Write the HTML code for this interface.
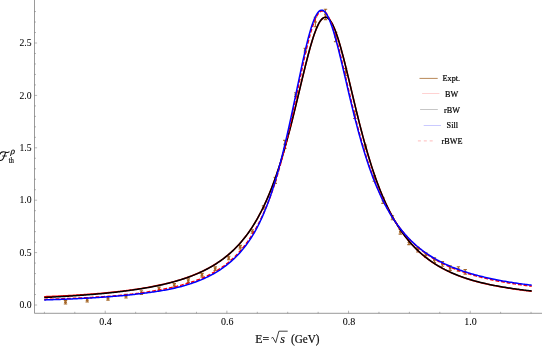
<!DOCTYPE html>
<html><head><meta charset="utf-8"><title>plot</title>
<style>
html,body{margin:0;padding:0;background:#fff;}
body{width:542px;height:347px;overflow:hidden;font-family:"Liberation Serif",serif;}
svg{display:block;will-change:transform;font-family:"Liberation Serif",serif;}
text{font-family:"Liberation Serif",serif;stroke:#000;stroke-width:0.2px;}
text.t{stroke-width:0.06px;}
</style></head><body>
<svg width="542" height="347" viewBox="0 0 542 347">
<rect width="542" height="347" fill="#ffffff"/>
<path d="M34.5 0 V313.3 H542" fill="none" stroke="#6e6e6e" stroke-width="0.7"/>
<path d="M34.5 305.00 h2.6 M34.5 294.52 h1.5 M34.5 284.04 h1.5 M34.5 273.56 h1.5 M34.5 263.08 h1.5 M34.5 252.60 h2.6 M34.5 242.12 h1.5 M34.5 231.64 h1.5 M34.5 221.16 h1.5 M34.5 210.68 h1.5 M34.5 200.20 h2.6 M34.5 189.72 h1.5 M34.5 179.24 h1.5 M34.5 168.76 h1.5 M34.5 158.28 h1.5 M34.5 147.80 h2.6 M34.5 137.32 h1.5 M34.5 126.84 h1.5 M34.5 116.36 h1.5 M34.5 105.88 h1.5 M34.5 95.40 h2.6 M34.5 84.92 h1.5 M34.5 74.44 h1.5 M34.5 63.96 h1.5 M34.5 53.48 h1.5 M34.5 43.00 h2.6 M34.5 32.52 h1.5 M34.5 22.04 h1.5 M34.5 11.56 h1.5 M44.40 313.3 v-1.5 M74.81 313.3 v-1.5 M105.23 313.3 v-2.6 M135.65 313.3 v-1.5 M166.06 313.3 v-1.5 M196.48 313.3 v-1.5 M226.89 313.3 v-2.6 M257.31 313.3 v-1.5 M287.72 313.3 v-1.5 M318.13 313.3 v-1.5 M348.55 313.3 v-2.6 M378.96 313.3 v-1.5 M409.38 313.3 v-1.5 M439.79 313.3 v-1.5 M470.21 313.3 v-2.6 M500.62 313.3 v-1.5 M531.04 313.3 v-1.5 " fill="none" stroke="#6e6e6e" stroke-width="0.5"/>
<text class="t" x="31.5" y="308.25" text-anchor="end" font-size="9.7" fill="#000">0.0</text>
<text class="t" x="31.5" y="255.85" text-anchor="end" font-size="9.7" fill="#000">0.5</text>
<text class="t" x="31.5" y="203.45" text-anchor="end" font-size="9.7" fill="#000">1.0</text>
<text class="t" x="31.5" y="151.05" text-anchor="end" font-size="9.7" fill="#000">1.5</text>
<text class="t" x="31.5" y="98.65" text-anchor="end" font-size="9.7" fill="#000">2.0</text>
<text class="t" x="31.5" y="46.25" text-anchor="end" font-size="9.7" fill="#000">2.5</text>
<text class="t" x="105.6" y="324.55" text-anchor="middle" font-size="10" fill="#000">0.4</text>
<text class="t" x="227.3" y="324.55" text-anchor="middle" font-size="10" fill="#000">0.6</text>
<text class="t" x="348.9" y="324.55" text-anchor="middle" font-size="10" fill="#000">0.8</text>
<text class="t" x="470.6" y="324.55" text-anchor="middle" font-size="10" fill="#000">1.0</text>
<path d="M65.5 300.4 V304.0 M63.8 300.4 h3.4 M63.8 304.0 h3.4 M87.2 298.4 V302.0 M85.5 298.4 h3.4 M85.5 302.0 h3.4 M108.0 296.5 V300.1 M106.3 296.5 h3.4 M106.3 300.1 h3.4 M126.0 294.4 V298.0 M124.3 294.4 h3.4 M124.3 298.0 h3.4 M141.4 290.8 V294.4 M139.7 290.8 h3.4 M139.7 294.4 h3.4 M159.0 287.1 V290.7 M157.3 287.1 h3.4 M157.3 290.7 h3.4 M174.3 283.6 V287.2 M172.6 283.6 h3.4 M172.6 287.2 h3.4 M188.3 278.9 V282.5 M186.6 278.9 h3.4 M186.6 282.5 h3.4 M202.0 273.4 V277.0 M200.3 273.4 h3.4 M200.3 277.0 h3.4 M215.2 266.9 V270.5 M213.5 266.9 h3.4 M213.5 270.5 h3.4 M228.7 256.2 V259.8 M227.0 256.2 h3.4 M227.0 259.8 h3.4 M240.2 245.4 V249.0 M238.5 245.4 h3.4 M238.5 249.0 h3.4 M252.4 229.7 V233.3 M250.7 229.7 h3.4 M250.7 233.3 h3.4 M263.5 205.7 V209.3 M261.8 205.7 h3.4 M261.8 209.3 h3.4 M275.3 177.4 V183.4 M273.6 177.4 h3.4 M273.6 183.4 h3.4 M284.8 140.4 V148.4 M283.1 140.4 h3.4 M283.1 148.4 h3.4 M295.8 92.8 V96.4 M294.1 92.8 h3.4 M294.1 96.4 h3.4 M305.3 48.4 V52.0 M303.6 48.4 h3.4 M303.6 52.0 h3.4 M315.4 17.2 V26.8 M313.7 17.2 h3.4 M313.7 26.8 h3.4 M325.5 9.2 V19.6 M323.8 9.2 h3.4 M323.8 19.6 h3.4 M335.6 32.4 V41.6 M333.9 32.4 h3.4 M333.9 41.6 h3.4 M345.6 68.5 V75.5 M343.9 68.5 h3.4 M343.9 75.5 h3.4 M354.8 111.1 V118.5 M353.1 111.1 h3.4 M353.1 118.5 h3.4 M365.5 145.0 V149.0 M363.8 145.0 h3.4 M363.8 149.0 h3.4 M374.2 175.6 V181.2 M372.5 175.6 h3.4 M372.5 181.2 h3.4 M383.0 197.8 V203.4 M381.3 197.8 h3.4 M381.3 203.4 h3.4 M392.4 215.8 V219.8 M390.7 215.8 h3.4 M390.7 219.8 h3.4 M400.3 229.5 V234.1 M398.6 229.5 h3.4 M398.6 234.1 h3.4 M409.0 240.0 V244.6 M407.3 240.0 h3.4 M407.3 244.6 h3.4 M417.8 247.4 V252.0 M416.1 247.4 h3.4 M416.1 252.0 h3.4 M425.8 252.9 V257.5 M424.1 252.9 h3.4 M424.1 257.5 h3.4 M434.4 257.9 V262.5 M432.7 257.9 h3.4 M432.7 262.5 h3.4 M442.4 261.6 V266.2 M440.7 261.6 h3.4 M440.7 266.2 h3.4 M450.1 265.8 V270.4 M448.4 265.8 h3.4 M448.4 270.4 h3.4 M458.4 266.7 V271.3 M456.7 266.7 h3.4 M456.7 271.3 h3.4 M465.2 269.5 V274.1 M463.5 269.5 h3.4 M463.5 274.1 h3.4 " fill="none" stroke="#a5682a" stroke-width="1.1"/>
<g fill="#a5682a"><circle cx="65.5" cy="302.2" r="1.35"/><circle cx="87.2" cy="300.2" r="1.35"/><circle cx="108.0" cy="298.3" r="1.35"/><circle cx="126.0" cy="296.2" r="1.35"/><circle cx="141.4" cy="292.6" r="1.35"/><circle cx="159.0" cy="288.9" r="1.35"/><circle cx="174.3" cy="285.4" r="1.35"/><circle cx="188.3" cy="280.7" r="1.35"/><circle cx="202.0" cy="275.2" r="1.35"/><circle cx="215.2" cy="268.7" r="1.35"/><circle cx="228.7" cy="258.0" r="1.35"/><circle cx="240.2" cy="247.2" r="1.35"/><circle cx="252.4" cy="231.5" r="1.35"/><circle cx="263.5" cy="207.5" r="1.35"/><circle cx="275.3" cy="180.4" r="1.35"/><circle cx="284.8" cy="144.4" r="1.35"/><circle cx="295.8" cy="94.6" r="1.35"/><circle cx="305.3" cy="50.2" r="1.35"/><circle cx="315.4" cy="22.0" r="1.35"/><circle cx="325.5" cy="14.4" r="1.35"/><circle cx="335.6" cy="37.0" r="1.35"/><circle cx="345.6" cy="72.0" r="1.35"/><circle cx="354.8" cy="114.8" r="1.35"/><circle cx="365.5" cy="147.0" r="1.35"/><circle cx="374.2" cy="178.4" r="1.35"/><circle cx="383.0" cy="200.6" r="1.35"/><circle cx="392.4" cy="217.8" r="1.35"/><circle cx="400.3" cy="231.8" r="1.35"/><circle cx="409.0" cy="242.3" r="1.35"/><circle cx="417.8" cy="249.7" r="1.35"/><circle cx="425.8" cy="255.2" r="1.35"/><circle cx="434.4" cy="260.2" r="1.35"/><circle cx="442.4" cy="263.9" r="1.35"/><circle cx="450.1" cy="268.1" r="1.35"/><circle cx="458.4" cy="269.0" r="1.35"/><circle cx="465.2" cy="271.8" r="1.35"/></g>
<path d="M44.20 296.68 L45.41 296.64 L46.63 296.59 L47.84 296.54 L49.06 296.50 L50.27 296.45 L51.49 296.40 L52.71 296.35 L53.92 296.29 L55.14 296.24 L56.35 296.19 L57.57 296.13 L58.78 296.08 L60.00 296.02 L61.22 295.96 L62.43 295.90 L63.65 295.84 L64.86 295.78 L66.08 295.71 L67.30 295.65 L68.51 295.58 L69.73 295.52 L70.94 295.45 L72.16 295.38 L73.37 295.31 L74.59 295.23 L75.81 295.16 L77.02 295.09 L78.24 295.01 L79.45 294.93 L80.67 294.85 L81.88 294.77 L83.10 294.69 L84.32 294.61 L85.53 294.52 L86.75 294.44 L87.96 294.35 L89.18 294.26 L90.39 294.17 L91.61 294.08 L92.83 293.98 L94.04 293.89 L95.26 293.79 L96.47 293.69 L97.69 293.59 L98.90 293.49 L100.12 293.38 L101.34 293.28 L102.55 293.17 L103.77 293.06 L104.98 292.95 L106.20 292.83 L107.41 292.72 L108.63 292.60 L109.85 292.48 L111.06 292.36 L112.28 292.23 L113.49 292.11 L114.71 291.98 L115.92 291.85 L117.14 291.71 L118.36 291.58 L119.57 291.44 L120.79 291.30 L122.00 291.16 L123.22 291.01 L124.44 290.86 L125.65 290.71 L126.87 290.56 L128.08 290.40 L129.30 290.24 L130.51 290.08 L131.73 289.91 L132.95 289.74 L134.16 289.57 L135.38 289.39 L136.59 289.22 L137.81 289.03 L139.02 288.85 L140.24 288.66 L141.46 288.47 L142.67 288.27 L143.89 288.07 L145.10 287.87 L146.32 287.66 L147.53 287.45 L148.75 287.23 L149.97 287.01 L151.18 286.79 L152.40 286.56 L153.61 286.32 L154.83 286.08 L156.04 285.84 L157.26 285.59 L158.48 285.34 L159.69 285.08 L160.91 284.82 L162.12 284.55 L163.34 284.27 L164.55 283.99 L165.77 283.71 L166.99 283.41 L168.20 283.11 L169.42 282.81 L170.63 282.50 L171.85 282.18 L173.06 281.85 L174.28 281.52 L175.50 281.18 L176.71 280.83 L177.93 280.48 L179.14 280.11 L180.36 279.74 L181.58 279.36 L182.79 278.97 L184.01 278.58 L185.22 278.17 L186.44 277.75 L187.65 277.33 L188.87 276.89 L190.09 276.44 L191.30 275.99 L192.52 275.52 L193.73 275.04 L194.95 274.55 L196.16 274.05 L197.38 273.53 L198.60 273.00 L199.81 272.46 L201.03 271.91 L202.24 271.34 L203.46 270.75 L204.67 270.15 L205.89 269.54 L207.11 268.91 L208.32 268.26 L209.54 267.60 L210.75 266.92 L211.97 266.22 L213.18 265.50 L214.40 264.76 L215.62 264.00 L216.83 263.23 L218.05 262.43 L219.26 261.60 L220.48 260.76 L221.69 259.89 L222.91 259.00 L224.13 258.08 L225.34 257.13 L226.56 256.16 L227.77 255.16 L228.99 254.13 L230.20 253.07 L231.42 251.97 L232.64 250.85 L233.85 249.69 L235.07 248.50 L236.28 247.27 L237.50 246.00 L238.72 244.69 L239.93 243.35 L241.15 241.96 L242.36 240.53 L243.58 239.05 L244.79 237.53 L246.01 235.96 L247.23 234.34 L248.44 232.66 L249.66 230.94 L250.87 229.15 L252.09 227.31 L253.30 225.41 L254.52 223.45 L255.74 221.42 L256.95 219.33 L258.17 217.17 L259.38 214.94 L260.60 212.64 L261.81 210.25 L263.03 207.80 L264.25 205.26 L265.46 202.64 L266.68 199.93 L267.89 197.13 L269.11 194.25 L270.32 191.27 L271.54 188.20 L272.76 185.03 L273.97 181.76 L275.19 178.38 L276.40 174.91 L277.62 171.33 L278.83 167.65 L280.05 163.86 L281.27 159.96 L282.48 155.95 L283.70 151.84 L284.91 147.62 L286.13 143.30 L287.34 138.87 L288.56 134.35 L289.78 129.73 L290.99 125.02 L292.21 120.22 L293.42 115.35 L294.64 110.42 L295.86 105.42 L297.07 100.38 L298.29 95.30 L299.50 90.20 L300.72 85.10 L301.93 80.01 L303.15 74.96 L304.37 69.96 L305.58 65.03 L306.80 60.21 L308.01 55.51 L309.23 50.96 L310.44 46.59 L311.66 42.43 L312.88 38.49 L314.09 34.82 L315.31 31.43 L316.52 28.35 L317.74 25.61 L318.95 23.23 L320.17 21.22 L321.39 19.61 L322.60 18.41 L323.82 17.62 L325.03 17.26 L326.25 17.34 L327.46 17.83 L328.68 18.76 L329.90 20.10 L331.11 21.84 L332.33 23.97 L333.54 26.48 L334.76 29.33 L335.97 32.52 L337.19 36.00 L338.41 39.76 L339.62 43.78 L340.84 48.01 L342.05 52.45 L343.27 57.05 L344.48 61.79 L345.70 66.65 L346.92 71.61 L348.13 76.63 L349.35 81.69 L350.56 86.79 L351.78 91.89 L353.00 96.99 L354.21 102.06 L355.43 107.09 L356.64 112.07 L357.86 116.98 L359.07 121.83 L360.29 126.60 L361.51 131.28 L362.72 135.87 L363.94 140.37 L365.15 144.76 L366.37 149.05 L367.58 153.24 L368.80 157.31 L370.02 161.29 L371.23 165.15 L372.45 168.91 L373.66 172.56 L374.88 176.11 L376.09 179.55 L377.31 182.89 L378.53 186.12 L379.74 189.26 L380.96 192.31 L382.17 195.26 L383.39 198.11 L384.60 200.88 L385.82 203.56 L387.04 206.16 L388.25 208.67 L389.47 211.11 L390.68 213.46 L391.90 215.74 L393.11 217.95 L394.33 220.09 L395.55 222.17 L396.76 224.17 L397.98 226.12 L399.19 228.00 L400.41 229.82 L401.62 231.59 L402.84 233.30 L404.06 234.96 L405.27 236.56 L406.49 238.12 L407.70 239.63 L408.92 241.09 L410.14 242.51 L411.35 243.89 L412.57 245.22 L413.78 246.52 L415.00 247.78 L416.21 249.00 L417.43 250.18 L418.65 251.33 L419.86 252.45 L421.08 253.53 L422.29 254.58 L423.51 255.61 L424.72 256.60 L425.94 257.57 L427.16 258.50 L428.37 259.42 L429.59 260.31 L430.80 261.17 L432.02 262.01 L433.23 262.83 L434.45 263.62 L435.67 264.40 L436.88 265.15 L438.10 265.88 L439.31 266.60 L440.53 267.30 L441.74 267.97 L442.96 268.63 L444.18 269.28 L445.39 269.91 L446.61 270.52 L447.82 271.11 L449.04 271.69 L450.25 272.26 L451.47 272.81 L452.69 273.35 L453.90 273.87 L455.12 274.38 L456.33 274.87 L457.55 275.36 L458.77 275.83 L459.98 276.29 L461.20 276.74 L462.41 277.18 L463.63 277.60 L464.84 278.02 L466.06 278.42 L467.28 278.82 L468.49 279.21 L469.71 279.58 L470.92 279.95 L472.14 280.31 L473.35 280.66 L474.57 281.01 L475.79 281.34 L477.00 281.67 L478.22 281.99 L479.43 282.31 L480.65 282.61 L481.86 282.91 L483.08 283.20 L484.30 283.49 L485.51 283.77 L486.73 284.05 L487.94 284.31 L489.16 284.58 L490.37 284.83 L491.59 285.09 L492.81 285.33 L494.02 285.58 L495.24 285.81 L496.45 286.04 L497.67 286.27 L498.88 286.50 L500.10 286.72 L501.32 286.93 L502.53 287.14 L503.75 287.35 L504.96 287.55 L506.18 287.76 L507.39 287.95 L508.61 288.15 L509.83 288.34 L511.04 288.52 L512.26 288.71 L513.47 288.89 L514.69 289.07 L515.91 289.24 L517.12 289.42 L518.34 289.59 L519.55 289.76 L520.77 289.92 L521.98 290.09 L523.20 290.25 L524.42 290.41 L525.63 290.57 L526.85 290.73 L528.06 290.88 L529.28 291.03 L530.49 291.19 L531.71 291.34" fill="none" stroke="#ff0000" stroke-width="1.5"/>
<path d="M44.20 297.50 L45.41 297.44 L46.63 297.38 L47.84 297.32 L49.06 297.26 L50.27 297.19 L51.49 297.13 L52.71 297.07 L53.92 297.00 L55.14 296.94 L56.35 296.87 L57.57 296.80 L58.78 296.73 L60.00 296.66 L61.22 296.59 L62.43 296.52 L63.65 296.45 L64.86 296.38 L66.08 296.30 L67.30 296.23 L68.51 296.15 L69.73 296.07 L70.94 296.00 L72.16 295.92 L73.37 295.84 L74.59 295.75 L75.81 295.67 L77.02 295.59 L78.24 295.50 L79.45 295.42 L80.67 295.33 L81.88 295.24 L83.10 295.15 L84.32 295.06 L85.53 294.97 L86.75 294.87 L87.96 294.78 L89.18 294.68 L90.39 294.58 L91.61 294.48 L92.83 294.38 L94.04 294.28 L95.26 294.17 L96.47 294.07 L97.69 293.96 L98.90 293.85 L100.12 293.74 L101.34 293.63 L102.55 293.51 L103.77 293.40 L104.98 293.28 L106.20 293.16 L107.41 293.04 L108.63 292.91 L109.85 292.79 L111.06 292.66 L112.28 292.53 L113.49 292.40 L114.71 292.26 L115.92 292.13 L117.14 291.99 L118.36 291.85 L119.57 291.70 L120.79 291.56 L122.00 291.41 L123.22 291.26 L124.44 291.11 L125.65 290.95 L126.87 290.79 L128.08 290.63 L129.30 290.47 L130.51 290.30 L131.73 290.13 L132.95 289.96 L134.16 289.78 L135.38 289.60 L136.59 289.42 L137.81 289.23 L139.02 289.04 L140.24 288.85 L141.46 288.66 L142.67 288.46 L143.89 288.25 L145.10 288.05 L146.32 287.83 L147.53 287.62 L148.75 287.40 L149.97 287.18 L151.18 286.95 L152.40 286.72 L153.61 286.48 L154.83 286.24 L156.04 285.99 L157.26 285.74 L158.48 285.49 L159.69 285.22 L160.91 284.96 L162.12 284.69 L163.34 284.41 L164.55 284.13 L165.77 283.84 L166.99 283.54 L168.20 283.24 L169.42 282.93 L170.63 282.62 L171.85 282.30 L173.06 281.97 L174.28 281.64 L175.50 281.29 L176.71 280.94 L177.93 280.59 L179.14 280.22 L180.36 279.85 L181.58 279.47 L182.79 279.07 L184.01 278.67 L185.22 278.27 L186.44 277.85 L187.65 277.42 L188.87 276.98 L190.09 276.53 L191.30 276.08 L192.52 275.61 L193.73 275.12 L194.95 274.63 L196.16 274.13 L197.38 273.61 L198.60 273.08 L199.81 272.54 L201.03 271.98 L202.24 271.41 L203.46 270.82 L204.67 270.22 L205.89 269.61 L207.11 268.98 L208.32 268.33 L209.54 267.66 L210.75 266.98 L211.97 266.28 L213.18 265.56 L214.40 264.82 L215.62 264.06 L216.83 263.28 L218.05 262.48 L219.26 261.66 L220.48 260.81 L221.69 259.94 L222.91 259.05 L224.13 258.13 L225.34 257.18 L226.56 256.21 L227.77 255.21 L228.99 254.17 L230.20 253.11 L231.42 252.02 L232.64 250.89 L233.85 249.73 L235.07 248.54 L236.28 247.31 L237.50 246.04 L238.72 244.73 L239.93 243.39 L241.15 242.00 L242.36 240.56 L243.58 239.09 L244.79 237.56 L246.01 235.99 L247.23 234.37 L248.44 232.69 L249.66 230.97 L250.87 229.18 L252.09 227.34 L253.30 225.44 L254.52 223.48 L255.74 221.45 L256.95 219.36 L258.17 217.20 L259.38 214.97 L260.60 212.66 L261.81 210.28 L263.03 207.82 L264.25 205.28 L265.46 202.66 L266.68 199.95 L267.89 197.15 L269.11 194.27 L270.32 191.29 L271.54 188.21 L272.76 185.04 L273.97 181.77 L275.19 178.40 L276.40 174.93 L277.62 171.35 L278.83 167.66 L280.05 163.87 L281.27 159.97 L282.48 155.97 L283.70 151.85 L284.91 147.63 L286.13 143.31 L287.34 138.88 L288.56 134.36 L289.78 129.74 L290.99 125.03 L292.21 120.23 L293.42 115.36 L294.64 110.42 L295.86 105.43 L297.07 100.38 L298.29 95.30 L299.50 90.21 L300.72 85.10 L301.93 80.02 L303.15 74.96 L304.37 69.96 L305.58 65.04 L306.80 60.21 L308.01 55.51 L309.23 50.96 L310.44 46.59 L311.66 42.43 L312.88 38.49 L314.09 34.82 L315.31 31.43 L316.52 28.35 L317.74 25.61 L318.95 23.23 L320.17 21.22 L321.39 19.61 L322.60 18.40 L323.82 17.62 L325.03 17.26 L326.25 17.33 L327.46 17.83 L328.68 18.75 L329.90 20.09 L331.11 21.83 L332.33 23.96 L333.54 26.47 L334.76 29.32 L335.97 32.50 L337.19 35.99 L338.41 39.75 L339.62 43.76 L340.84 48.00 L342.05 52.43 L343.27 57.03 L344.48 61.78 L345.70 66.64 L346.92 71.59 L348.13 76.61 L349.35 81.68 L350.56 86.77 L351.78 91.87 L353.00 96.97 L354.21 102.04 L355.43 107.07 L356.64 112.04 L357.86 116.96 L359.07 121.81 L360.29 126.58 L361.51 131.26 L362.72 135.85 L363.94 140.34 L365.15 144.73 L366.37 149.02 L367.58 153.21 L368.80 157.29 L370.02 161.26 L371.23 165.12 L372.45 168.88 L373.66 172.53 L374.88 176.07 L376.09 179.52 L377.31 182.85 L378.53 186.09 L379.74 189.23 L380.96 192.27 L382.17 195.22 L383.39 198.08 L384.60 200.84 L385.82 203.52 L387.04 206.12 L388.25 208.63 L389.47 211.07 L390.68 213.42 L391.90 215.70 L393.11 217.91 L394.33 220.05 L395.55 222.12 L396.76 224.13 L397.98 226.07 L399.19 227.95 L400.41 229.77 L401.62 231.54 L402.84 233.25 L404.06 234.90 L405.27 236.51 L406.49 238.07 L407.70 239.58 L408.92 241.04 L410.14 242.46 L411.35 243.83 L412.57 245.17 L413.78 246.46 L415.00 247.72 L416.21 248.93 L417.43 250.12 L418.65 251.27 L419.86 252.38 L421.08 253.46 L422.29 254.51 L423.51 255.54 L424.72 256.53 L425.94 257.49 L427.16 258.43 L428.37 259.34 L429.59 260.23 L430.80 261.09 L432.02 261.93 L433.23 262.75 L434.45 263.54 L435.67 264.31 L436.88 265.07 L438.10 265.80 L439.31 266.51 L440.53 267.21 L441.74 267.88 L442.96 268.54 L444.18 269.19 L445.39 269.81 L446.61 270.42 L447.82 271.02 L449.04 271.59 L450.25 272.16 L451.47 272.71 L452.69 273.24 L453.90 273.76 L455.12 274.27 L456.33 274.76 L457.55 275.25 L458.77 275.71 L459.98 276.17 L461.20 276.62 L462.41 277.05 L463.63 277.48 L464.84 277.89 L466.06 278.30 L467.28 278.69 L468.49 279.08 L469.71 279.45 L470.92 279.82 L472.14 280.17 L473.35 280.52 L474.57 280.86 L475.79 281.20 L477.00 281.52 L478.22 281.84 L479.43 282.15 L480.65 282.46 L481.86 282.75 L483.08 283.04 L484.30 283.33 L485.51 283.60 L486.73 283.88 L487.94 284.14 L489.16 284.40 L490.37 284.66 L491.59 284.90 L492.81 285.15 L494.02 285.39 L495.24 285.62 L496.45 285.85 L497.67 286.08 L498.88 286.30 L500.10 286.51 L501.32 286.72 L502.53 286.93 L503.75 287.14 L504.96 287.34 L506.18 287.53 L507.39 287.73 L508.61 287.92 L509.83 288.10 L511.04 288.29 L512.26 288.47 L513.47 288.64 L514.69 288.82 L515.91 288.99 L517.12 289.16 L518.34 289.33 L519.55 289.49 L520.77 289.65 L521.98 289.81 L523.20 289.97 L524.42 290.12 L525.63 290.28 L526.85 290.43 L528.06 290.58 L529.28 290.73 L530.49 290.87 L531.71 291.02" fill="none" stroke="#000000" stroke-width="1.5"/>
<path d="M44.20 299.45 L45.41 299.41 L46.63 299.37 L47.84 299.33 L49.06 299.29 L50.27 299.25 L51.49 299.21 L52.71 299.17 L53.92 299.12 L55.14 299.08 L56.35 299.04 L57.57 298.99 L58.78 298.95 L60.00 298.90 L61.22 298.85 L62.43 298.81 L63.65 298.76 L64.86 298.71 L66.08 298.66 L67.30 298.61 L68.51 298.56 L69.73 298.51 L70.94 298.46 L72.16 298.40 L73.37 298.35 L74.59 298.29 L75.81 298.24 L77.02 298.18 L78.24 298.12 L79.45 298.06 L80.67 298.00 L81.88 297.94 L83.10 297.88 L84.32 297.82 L85.53 297.75 L86.75 297.69 L87.96 297.62 L89.18 297.55 L90.39 297.48 L91.61 297.41 L92.83 297.34 L94.04 297.27 L95.26 297.20 L96.47 297.12 L97.69 297.04 L98.90 296.97 L100.12 296.89 L101.34 296.81 L102.55 296.73 L103.77 296.64 L104.98 296.56 L106.20 296.47 L107.41 296.38 L108.63 296.29 L109.85 296.20 L111.06 296.11 L112.28 296.01 L113.49 295.92 L114.71 295.82 L115.92 295.72 L117.14 295.62 L118.36 295.51 L119.57 295.40 L120.79 295.29 L122.00 295.18 L123.22 295.06 L124.44 294.94 L125.65 294.81 L126.87 294.68 L128.08 294.55 L129.30 294.41 L130.51 294.27 L131.73 294.13 L132.95 293.98 L134.16 293.83 L135.38 293.68 L136.59 293.52 L137.81 293.37 L139.02 293.20 L140.24 293.04 L141.46 292.87 L142.67 292.70 L143.89 292.52 L145.10 292.34 L146.32 292.16 L147.53 291.97 L148.75 291.79 L149.97 291.59 L151.18 291.40 L152.40 291.20 L153.61 291.00 L154.83 290.79 L156.04 290.58 L157.26 290.37 L158.48 290.15 L159.69 289.94 L160.91 289.71 L162.12 289.49 L163.34 289.26 L164.55 289.02 L165.77 288.78 L166.99 288.54 L168.20 288.29 L169.42 288.04 L170.63 287.78 L171.85 287.51 L173.06 287.24 L174.28 286.96 L175.50 286.67 L176.71 286.38 L177.93 286.08 L179.14 285.77 L180.36 285.46 L181.58 285.13 L182.79 284.80 L184.01 284.46 L185.22 284.11 L186.44 283.75 L187.65 283.38 L188.87 283.00 L190.09 282.61 L191.30 282.21 L192.52 281.80 L193.73 281.38 L194.95 280.95 L196.16 280.50 L197.38 280.05 L198.60 279.58 L199.81 279.09 L201.03 278.60 L202.24 278.09 L203.46 277.56 L204.67 277.02 L205.89 276.47 L207.11 275.89 L208.32 275.30 L209.54 274.70 L210.75 274.07 L211.97 273.43 L213.18 272.76 L214.40 272.08 L215.62 271.37 L216.83 270.65 L218.05 269.90 L219.26 269.12 L220.48 268.33 L221.69 267.50 L222.91 266.65 L224.13 265.78 L225.34 264.87 L226.56 263.93 L227.77 262.97 L228.99 261.97 L230.20 260.94 L231.42 259.87 L232.64 258.77 L233.85 257.63 L235.07 256.45 L236.28 255.23 L237.50 253.96 L238.72 252.66 L239.93 251.30 L241.15 249.91 L242.36 248.46 L243.58 246.97 L244.79 245.42 L246.01 243.82 L247.23 242.17 L248.44 240.45 L249.66 238.68 L250.87 236.84 L252.09 234.94 L253.30 232.97 L254.52 230.93 L255.74 228.81 L256.95 226.62 L258.17 224.34 L259.38 221.99 L260.60 219.54 L261.81 217.01 L263.03 214.38 L264.25 211.66 L265.46 208.83 L266.68 205.91 L267.89 202.87 L269.11 199.72 L270.32 196.46 L271.54 193.08 L272.76 189.58 L273.97 185.95 L275.19 182.20 L276.40 178.31 L277.62 174.29 L278.83 170.14 L280.05 165.84 L281.27 161.41 L282.48 156.84 L283.70 152.13 L284.91 147.28 L286.13 142.29 L287.34 137.17 L288.56 131.92 L289.78 126.56 L290.99 121.09 L292.21 115.52 L293.42 109.86 L294.64 104.14 L295.86 98.36 L297.07 92.54 L298.29 86.70 L299.50 80.87 L300.72 75.07 L301.93 69.32 L303.15 63.67 L304.37 58.12 L305.58 52.73 L306.80 47.52 L308.01 42.53 L309.23 37.78 L310.44 33.33 L311.66 29.19 L312.88 25.41 L314.09 22.01 L315.31 19.03 L316.52 16.47 L317.74 14.38 L318.95 12.76 L320.17 11.63 L321.39 10.99 L322.60 10.84 L323.82 11.19 L325.03 12.02 L326.25 13.33 L327.46 15.10 L328.68 17.29 L329.90 19.91 L331.11 22.90 L332.33 26.25 L333.54 29.92 L334.76 33.89 L335.97 38.12 L337.19 42.57 L338.41 47.22 L339.62 52.03 L340.84 56.97 L342.05 62.02 L343.27 67.15 L344.48 72.33 L345.70 77.54 L346.92 82.76 L348.13 87.97 L349.35 93.15 L350.56 98.29 L351.78 103.37 L353.00 108.39 L354.21 113.33 L355.43 118.18 L356.64 122.94 L357.86 127.60 L359.07 132.16 L360.29 136.61 L361.51 140.95 L362.72 145.18 L363.94 149.30 L365.15 153.31 L366.37 157.20 L367.58 160.99 L368.80 164.66 L370.02 168.22 L371.23 171.68 L372.45 175.03 L373.66 178.28 L374.88 181.43 L376.09 184.48 L377.31 187.43 L378.53 190.29 L379.74 193.06 L380.96 195.74 L382.17 198.34 L383.39 200.85 L384.60 203.29 L385.82 205.64 L387.04 207.92 L388.25 210.13 L389.47 212.27 L390.68 214.34 L391.90 216.35 L393.11 218.29 L394.33 220.17 L395.55 222.00 L396.76 223.77 L397.98 225.48 L399.19 227.14 L400.41 228.75 L401.62 230.31 L402.84 231.82 L404.06 233.29 L405.27 234.71 L406.49 236.09 L407.70 237.43 L408.92 238.74 L410.14 240.00 L411.35 241.23 L412.57 242.42 L413.78 243.58 L415.00 244.70 L416.21 245.79 L417.43 246.86 L418.65 247.89 L419.86 248.89 L421.08 249.87 L422.29 250.82 L423.51 251.75 L424.72 252.65 L425.94 253.52 L427.16 254.37 L428.37 255.20 L429.59 256.01 L430.80 256.80 L432.02 257.57 L433.23 258.32 L434.45 259.05 L435.67 259.76 L436.88 260.45 L438.10 261.12 L439.31 261.78 L440.53 262.43 L441.74 263.05 L442.96 263.67 L444.18 264.26 L445.39 264.85 L446.61 265.42 L447.82 265.97 L449.04 266.52 L450.25 267.05 L451.47 267.57 L452.69 268.07 L453.90 268.57 L455.12 269.05 L456.33 269.53 L457.55 269.99 L458.77 270.44 L459.98 270.88 L461.20 271.32 L462.41 271.74 L463.63 272.16 L464.84 272.56 L466.06 272.96 L467.28 273.35 L468.49 273.73 L469.71 274.10 L470.92 274.47 L472.14 274.83 L473.35 275.18 L474.57 275.52 L475.79 275.86 L477.00 276.19 L478.22 276.51 L479.43 276.83 L480.65 277.14 L481.86 277.45 L483.08 277.75 L484.30 278.04 L485.51 278.33 L486.73 278.61 L487.94 278.89 L489.16 279.16 L490.37 279.43 L491.59 279.69 L492.81 279.95 L494.02 280.20 L495.24 280.45 L496.45 280.69 L497.67 280.93 L498.88 281.16 L500.10 281.40 L501.32 281.62 L502.53 281.85 L503.75 282.06 L504.96 282.28 L506.18 282.49 L507.39 282.70 L508.61 282.90 L509.83 283.10 L511.04 283.30 L512.26 283.50 L513.47 283.69 L514.69 283.88 L515.91 284.06 L517.12 284.24 L518.34 284.42 L519.55 284.60 L520.77 284.77 L521.98 284.94 L523.20 285.11 L524.42 285.28 L525.63 285.44 L526.85 285.60 L528.06 285.76 L529.28 285.91 L530.49 286.06 L531.71 286.21" fill="none" stroke="#ff0000" stroke-width="1.5" stroke-dasharray="3.8 1.9"/>
<path d="M44.20 299.94 L45.41 299.90 L46.63 299.86 L47.84 299.82 L49.06 299.78 L50.27 299.74 L51.49 299.70 L52.71 299.66 L53.92 299.62 L55.14 299.57 L56.35 299.53 L57.57 299.48 L58.78 299.44 L60.00 299.39 L61.22 299.34 L62.43 299.30 L63.65 299.25 L64.86 299.20 L66.08 299.15 L67.30 299.10 L68.51 299.05 L69.73 298.99 L70.94 298.94 L72.16 298.89 L73.37 298.83 L74.59 298.78 L75.81 298.72 L77.02 298.66 L78.24 298.60 L79.45 298.54 L80.67 298.48 L81.88 298.42 L83.10 298.36 L84.32 298.29 L85.53 298.23 L86.75 298.16 L87.96 298.09 L89.18 298.03 L90.39 297.96 L91.61 297.89 L92.83 297.81 L94.04 297.74 L95.26 297.67 L96.47 297.59 L97.69 297.51 L98.90 297.43 L100.12 297.35 L101.34 297.27 L102.55 297.19 L103.77 297.10 L104.98 297.02 L106.20 296.93 L107.41 296.84 L108.63 296.75 L109.85 296.66 L111.06 296.56 L112.28 296.47 L113.49 296.37 L114.71 296.27 L115.92 296.17 L117.14 296.06 L118.36 295.96 L119.57 295.85 L120.79 295.74 L122.00 295.63 L123.22 295.52 L124.44 295.40 L125.65 295.28 L126.87 295.16 L128.08 295.04 L129.30 294.91 L130.51 294.78 L131.73 294.65 L132.95 294.52 L134.16 294.38 L135.38 294.24 L136.59 294.10 L137.81 293.96 L139.02 293.81 L140.24 293.67 L141.46 293.52 L142.67 293.37 L143.89 293.22 L145.10 293.07 L146.32 292.91 L147.53 292.75 L148.75 292.59 L149.97 292.43 L151.18 292.26 L152.40 292.09 L153.61 291.92 L154.83 291.74 L156.04 291.56 L157.26 291.37 L158.48 291.18 L159.69 290.99 L160.91 290.79 L162.12 290.59 L163.34 290.38 L164.55 290.16 L165.77 289.94 L166.99 289.71 L168.20 289.48 L169.42 289.24 L170.63 288.99 L171.85 288.74 L173.06 288.47 L174.28 288.20 L175.50 287.93 L176.71 287.64 L177.93 287.35 L179.14 287.04 L180.36 286.73 L181.58 286.41 L182.79 286.08 L184.01 285.73 L185.22 285.38 L186.44 285.02 L187.65 284.64 L188.87 284.26 L190.09 283.87 L191.30 283.47 L192.52 283.06 L193.73 282.63 L194.95 282.20 L196.16 281.75 L197.38 281.29 L198.60 280.82 L199.81 280.33 L201.03 279.83 L202.24 279.32 L203.46 278.79 L204.67 278.25 L205.89 277.69 L207.11 277.11 L208.32 276.52 L209.54 275.91 L210.75 275.29 L211.97 274.64 L213.18 273.98 L214.40 273.29 L215.62 272.59 L216.83 271.86 L218.05 271.11 L219.26 270.34 L220.48 269.54 L221.69 268.72 L222.91 267.87 L224.13 267.00 L225.34 266.10 L226.56 265.17 L227.77 264.21 L228.99 263.21 L230.20 262.19 L231.42 261.13 L232.64 260.04 L233.85 258.91 L235.07 257.74 L236.28 256.53 L237.50 255.28 L238.72 253.99 L239.93 252.66 L241.15 251.27 L242.36 249.84 L243.58 248.36 L244.79 246.83 L246.01 245.24 L247.23 243.60 L248.44 241.89 L249.66 240.12 L250.87 238.28 L252.09 236.36 L253.30 234.36 L254.52 232.28 L255.74 230.12 L256.95 227.86 L258.17 225.52 L259.38 223.08 L260.60 220.54 L261.81 217.90 L263.03 215.15 L264.25 212.30 L265.46 209.33 L266.68 206.25 L267.89 203.05 L269.11 199.72 L270.32 196.27 L271.54 192.69 L272.76 188.97 L273.97 185.13 L275.19 181.15 L276.40 177.02 L277.62 172.77 L278.83 168.37 L280.05 163.83 L281.27 159.15 L282.48 154.34 L283.70 149.40 L284.91 144.33 L286.13 139.14 L287.34 133.83 L288.56 128.41 L289.78 122.90 L290.99 117.30 L292.21 111.63 L293.42 105.91 L294.64 100.14 L295.86 94.33 L297.07 88.49 L298.29 82.65 L299.50 76.83 L300.72 71.05 L301.93 65.35 L303.15 59.75 L304.37 54.29 L305.58 49.00 L306.80 43.91 L308.01 39.05 L309.23 34.47 L310.44 30.20 L311.66 26.27 L312.88 22.71 L314.09 19.55 L315.31 16.81 L316.52 14.53 L317.74 12.71 L318.95 11.38 L320.17 10.53 L321.39 10.18 L322.60 10.33 L323.82 10.97 L325.03 12.08 L326.25 13.66 L327.46 15.68 L328.68 18.12 L329.90 20.96 L331.11 24.17 L332.33 27.71 L333.54 31.56 L334.76 35.68 L335.97 40.04 L337.19 44.61 L338.41 49.35 L339.62 54.24 L340.84 59.25 L342.05 64.34 L343.27 69.50 L344.48 74.70 L345.70 79.91 L346.92 85.12 L348.13 90.31 L349.35 95.46 L350.56 100.56 L351.78 105.60 L353.00 110.56 L354.21 115.45 L355.43 120.24 L356.64 124.93 L357.86 129.53 L359.07 134.02 L360.29 138.40 L361.51 142.67 L362.72 146.83 L363.94 150.88 L365.15 154.81 L366.37 158.64 L367.58 162.35 L368.80 165.95 L370.02 169.45 L371.23 172.84 L372.45 176.12 L373.66 179.31 L374.88 182.39 L376.09 185.38 L377.31 188.27 L378.53 191.07 L379.74 193.78 L380.96 196.41 L382.17 198.95 L383.39 201.42 L384.60 203.80 L385.82 206.11 L387.04 208.34 L388.25 210.50 L389.47 212.60 L390.68 214.63 L391.90 216.59 L393.11 218.49 L394.33 220.34 L395.55 222.12 L396.76 223.85 L397.98 225.53 L399.19 227.16 L400.41 228.73 L401.62 230.26 L402.84 231.75 L404.06 233.18 L405.27 234.58 L406.49 235.93 L407.70 237.25 L408.92 238.52 L410.14 239.76 L411.35 240.97 L412.57 242.13 L413.78 243.27 L415.00 244.37 L416.21 245.44 L417.43 246.49 L418.65 247.50 L419.86 248.49 L421.08 249.44 L422.29 250.38 L423.51 251.28 L424.72 252.17 L425.94 253.03 L427.16 253.87 L428.37 254.68 L429.59 255.47 L430.80 256.25 L432.02 257.00 L433.23 257.74 L434.45 258.45 L435.67 259.15 L436.88 259.83 L438.10 260.50 L439.31 261.14 L440.53 261.78 L441.74 262.39 L442.96 262.99 L444.18 263.58 L445.39 264.15 L446.61 264.71 L447.82 265.26 L449.04 265.80 L450.25 266.32 L451.47 266.83 L452.69 267.33 L453.90 267.81 L455.12 268.29 L456.33 268.76 L457.55 269.21 L458.77 269.66 L459.98 270.09 L461.20 270.52 L462.41 270.94 L463.63 271.35 L464.84 271.75 L466.06 272.14 L467.28 272.52 L468.49 272.90 L469.71 273.27 L470.92 273.63 L472.14 273.98 L473.35 274.32 L474.57 274.66 L475.79 274.99 L477.00 275.32 L478.22 275.64 L479.43 275.95 L480.65 276.26 L481.86 276.56 L483.08 276.85 L484.30 277.14 L485.51 277.43 L486.73 277.71 L487.94 277.98 L489.16 278.25 L490.37 278.51 L491.59 278.77 L492.81 279.02 L494.02 279.27 L495.24 279.52 L496.45 279.76 L497.67 280.00 L498.88 280.23 L500.10 280.46 L501.32 280.68 L502.53 280.90 L503.75 281.12 L504.96 281.33 L506.18 281.54 L507.39 281.74 L508.61 281.95 L509.83 282.14 L511.04 282.34 L512.26 282.53 L513.47 282.72 L514.69 282.91 L515.91 283.09 L517.12 283.27 L518.34 283.45 L519.55 283.62 L520.77 283.79 L521.98 283.96 L523.20 284.13 L524.42 284.29 L525.63 284.45 L526.85 284.61 L528.06 284.76 L529.28 284.92 L530.49 285.07 L531.71 285.22" fill="none" stroke="#0000ff" stroke-width="1.5"/>
<path d="M419.5 78.4 H437.7" stroke="#b07a45" stroke-width="0.9" fill="none" />
<text x="442.6" y="80.8" font-size="8.2" fill="#000">Expt.</text>
<path d="M422.1 93.5 H439.4" stroke="#ffb3b3" stroke-width="0.6" fill="none" />
<text x="445.0" y="96.7" font-size="8.2" fill="#000">BW</text>
<path d="M420.1 109.5 H437.8" stroke="#8c8c8c" stroke-width="0.5" fill="none" />
<text x="444.0" y="112.6" font-size="8.2" fill="#000">rBW</text>
<path d="M423.7 125.5 H441.0" stroke="#a6a6ff" stroke-width="0.6" fill="none" />
<text x="446.6" y="128.1" font-size="8.2" fill="#000">Sill</text>
<path d="M417.9 140.9 H435.4" stroke="#ffb3b3" stroke-width="0.9" fill="none" stroke-dasharray="3 2.9"/>
<text x="441.5" y="143.7" font-size="8.2" fill="#000">rBWE</text>

<text x="255.2" y="342.5" font-size="11.8" fill="#111">E=</text>
<path d="M271.3 338.2 l1.5 -0.9 l2.9 5.4 l3.2 -11.5 h8.8" fill="none" stroke="#111" stroke-width="0.8"/>
<text x="280.2" y="342.5" font-size="11.8" font-style="italic" fill="#111">s</text>
<text x="291" y="342.5" font-size="11.8" fill="#111" textLength="28.6" lengthAdjust="spacingAndGlyphs">(GeV)</text>
<path d="M-0.7 155.6 C-0.3 153.5 1.5 151.8 3.6 151.8 C5.2 151.8 6.3 152.45 7.5 152.4 C8.2 152.35 8.7 152.1 9.1 151.8" fill="none" stroke="#111" stroke-width="1.05" stroke-linecap="round"/>
<path d="M5.6 152.4 C4.9 154.6 4.2 156.8 3.3 158.4 C2.6 159.7 1.5 160.5 0.3 160.4 C-0.4 160.3 -0.7 159.8 -0.6 159.3" fill="none" stroke="#111" stroke-width="1.05" stroke-linecap="round"/>
<path d="M2.6 156.0 H6.5" fill="none" stroke="#111" stroke-width="0.85" stroke-linecap="round"/>
<text transform="translate(10.0 153.9) skewX(-14)" x="0" y="0" font-size="9.2" fill="#111">&#x3c1;</text>
<text x="8.7" y="162.6" font-size="8.6" fill="#111" textLength="5.3" lengthAdjust="spacingAndGlyphs">th</text>

</svg>
</body></html>
